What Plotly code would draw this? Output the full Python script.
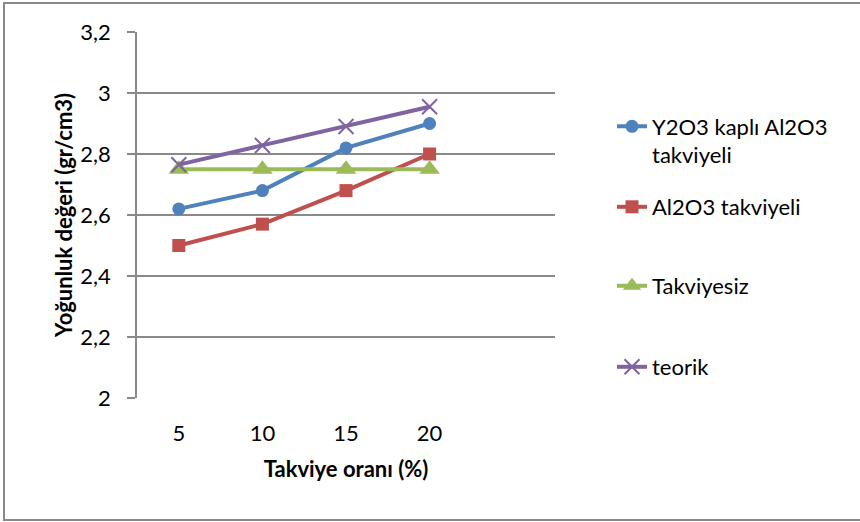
import plotly.graph_objects as go

categories = ["5", "10", "15", "20"]
y2o3_kapli = [2.62, 2.68, 2.82, 2.90]
al2o3 = [2.50, 2.57, 2.68, 2.80]
takviyesiz = [2.75, 2.75, 2.75, 2.75]
teorik = [2.765, 2.828, 2.89, 2.955]
series_names = ["Y2O3 kaplı Al2O3<br>takviyeli", "Al2O3 takviyeli", "Takviyesiz", "teorik"]
y_ticks = [2, 2.2, 2.4, 2.6, 2.8, 3, 3.2]

FONT = "Lato"
FS = 22
L, R, T, B = 137, 555, 32, 398
W, H = 860, 522
pw, ph = R - L, B - T

def px(x):
    return (x - L) / pw

def py(y):
    return (B - y) / ph

fig = go.Figure()
specs = [
    (y2o3_kapli, "#4F81BD", dict(symbol="circle", size=13), "legend", 141),
    (al2o3, "#C0504D", dict(symbol="square", size=13), "legend2", 207),
    (takviyesiz, "#9BBB59", dict(symbol="triangle-up", size=18), "legend3", 286),
    (teorik, "#8064A2", dict(symbol="x-thin", size=15, line=dict(width=2, color="#8064A2")), "legend4", 367),
]
for (vals, color, mk, lg, _), name in zip(specs, series_names):
    fig.add_trace(go.Scatter(
        x=categories, y=vals, name=name, mode="lines+markers",
        line=dict(color=color, width=4), marker=dict(color=color, **mk),
        legend=lg,
    ))

legend_common = dict(xanchor="left", yanchor="middle", bgcolor="rgba(0,0,0,0)",
                     font=dict(family=FONT, size=FS, color="#000"), valign="top",
                     itemwidth=30)
layout_legends = {}
for (_, _, _, lg, ypix) in specs:
    layout_legends[lg] = dict(x=px(612), y=py(ypix), **legend_common)

fig.update_layout(
    width=W, height=H,
    margin=dict(l=L, r=W - R, t=T, b=H - B),
    paper_bgcolor="white", plot_bgcolor="white",
    separators=", ",
    font=dict(family=FONT, size=FS, color="#000"),
    showlegend=True,
    xaxis=dict(type="category", range=[-0.5, 4.5], showgrid=False,
               showline=False, ticks="", ticklabelstandoff=20,
               tickfont=dict(family=FONT, size=FS),
               title=dict(text="<b>Takviye oranı (%)</b>", font=dict(family=FONT, size=FS), standoff=16),
               zeroline=False, fixedrange=True),
    yaxis=dict(range=[2, 3.2], tickvals=y_ticks, showgrid=True, gridcolor="#898989", gridwidth=1.5,
               showline=True, linecolor="#898989", linewidth=1.5,
               ticks="outside", ticklen=8, tickcolor="#898989", tickwidth=1.5,
               ticklabelstandoff=12,
               tickfont=dict(family=FONT, size=FS),
               title=dict(text="<b>Yoğunluk değeri (gr/cm3)</b>", font=dict(family=FONT, size=FS), standoff=2),
               zeroline=False),
    shapes=[dict(type="rect", xref="paper", yref="paper",
                 x0=px(4), x1=px(W + 5), y0=py(520), y1=py(3),
                 line=dict(color="#898989", width=2), layer="below")],
    **layout_legends,
)

fig.write_html("out.html", config={"displayModeBar": False},
               post_script="document.body.style.margin='0';")
